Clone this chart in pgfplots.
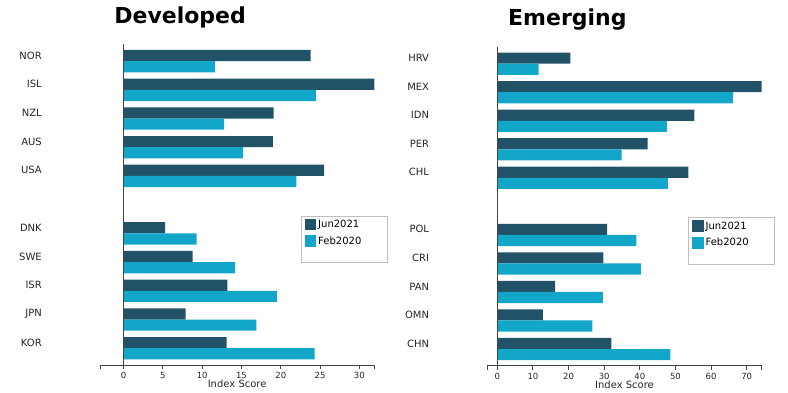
\documentclass[border=0pt]{standalone}
\usepackage{fontspec}
\setmainfont{DejaVu Sans}
\usepackage{pgfplots}
\pgfplotsset{compat=1.18}
\definecolor{cDark}{RGB}{34,82,104}
\definecolor{cLight}{RGB}{18,166,200}
\definecolor{axgray}{RGB}{68,68,68}
\pgfplotsset{
  mylegimg/.style={legend image code/.code={\fill[##1,draw=none] (0pt,-5.8pt) rectangle (11.7pt,5.8pt);}},
  myaxis/.style={
    scale only axis,
    anchor=south west,
    xbar, bar width=0.39,
    y dir=reverse,
    ymin=-0.4, ymax=10.78,
    axis x line*=bottom, axis y line*=left,
    y axis line style={draw=none},
    x axis line style={axgray, line width=0.9pt},
    ytick={0,1,2,3,4,6,7,8,9,10},
    ytick style={draw=none},
    tick align=outside,
    xtick style={axgray, line width=0.9pt},
    major tick length=4pt,
    yticklabel style={font=\fontsize{10}{12}\selectfont, anchor=east, xshift=-50.7pt, text=black!85},
    xticklabel style={font=\fontsize{8.5}{10}\selectfont, text=black!85},
    /pgf/number format/assume math mode=true,
    xlabel={Index Score},
    xlabel style={font=\fontsize{10}{12}\selectfont, text=black!85, at={(axis description cs:0.5,0)}, anchor=base, yshift=-22.5pt},
    title style={at={(0.292,1)}, anchor=base, yshift=15pt, font=\fontsize{22}{26}\selectfont\bfseries},
    legend style={at={(0.733,0.465)}, anchor=north west, draw=gray!50, line width=0.9pt, font=\fontsize{10}{12}\selectfont, row sep=3.5pt},
    legend cell align=left,
    extra x tick labels={},
  },
}
\begin{document}
\begin{tikzpicture}
\useasboundingbox (0,0) rectangle (788pt,-392pt);
\begin{axis}[myaxis, at={(100pt,-365pt)}, width=274.3pt, height=321pt,
  xmin=-3, xmax=31.9, xtick={0,5,...,30}, extra x ticks={-3,31.9},
  yticklabels={NOR,ISL,NZL,AUS,USA,DNK,SWE,ISR,JPN,KOR}, title={Developed}]
\addplot[fill=cDark, draw=none, bar shift=0, mylegimg] coordinates {(23.8,0) (31.9,1) (19.1,2) (19.0,3) (25.5,4) (5.3,6) (8.8,7) (13.2,8) (7.9,9) (13.1,10)};
\addlegendentry{\makebox[64pt][l]{Jun2021}}
\addplot[fill=cLight, draw=none, bar shift=0.39, mylegimg] coordinates {(11.65,0) (24.5,1) (12.8,2) (15.2,3) (22.0,4) (9.3,6) (14.2,7) (19.5,8) (16.9,9) (24.3,10)};
\addlegendentry{Feb2020}
\addlegendimage{empty legend}
\addlegendentry{\rule{0pt}{4pt}}
\draw[axgray, line width=0.9pt] (axis cs:0,-0.4) -- (axis cs:0,10.78);
\end{axis}
\begin{axis}[myaxis, at={(487.3pt,-365.7pt)}, width=274.4pt, height=319pt,
  xmin=-2.8, xmax=74.2, xtick={0,10,...,70}, extra x ticks={-2.8,74.2},
  yticklabels={HRV,MEX,IDN,PER,CHL,POL,CRI,PAN,OMN,CHN}, title={Emerging}]
\addplot[fill=cDark, draw=none, bar shift=0, mylegimg] coordinates {(20.5,0) (74.2,1) (55.3,2) (42.2,3) (53.6,4) (30.8,6) (29.8,7) (16.2,8) (12.8,9) (32.0,10)};
\addlegendentry{\makebox[64pt][l]{Jun2021}}
\addplot[fill=cLight, draw=none, bar shift=0.39, mylegimg] coordinates {(11.6,0) (66.1,1) (47.6,2) (34.9,3) (47.9,4) (39.0,6) (40.3,7) (29.6,8) (26.7,9) (48.6,10)};
\addlegendentry{Feb2020}
\addlegendimage{empty legend}
\addlegendentry{\rule{0pt}{4pt}}
\draw[axgray, line width=0.9pt] (axis cs:0,-0.4) -- (axis cs:0,10.78);
\end{axis}
\end{tikzpicture}
\end{document}
